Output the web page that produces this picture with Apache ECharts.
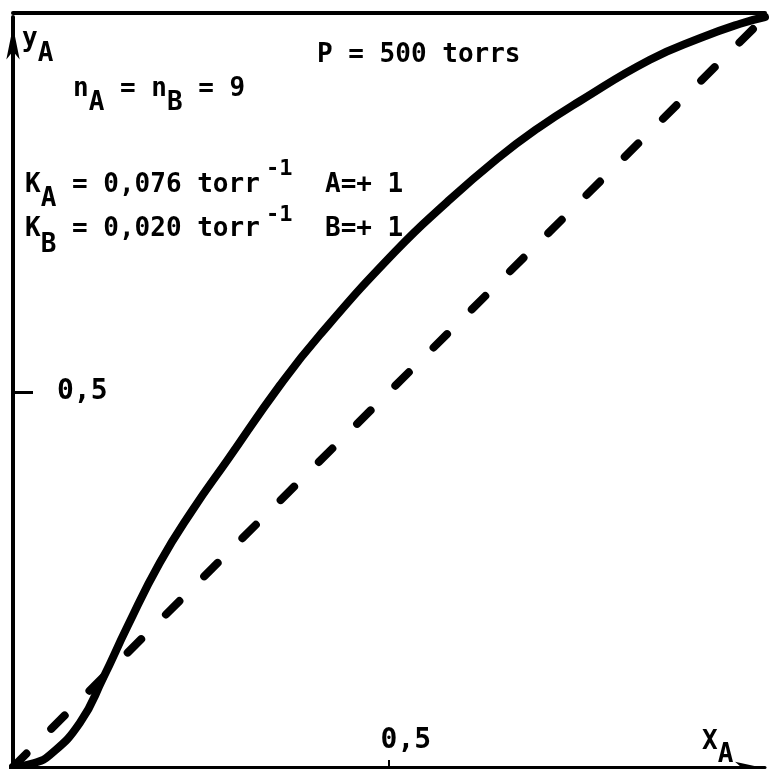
<!DOCTYPE html>
<html><head><meta charset="utf-8">
<script src="https://cdn.jsdelivr.net/npm/echarts@6/dist/echarts.min.js"></script>
<style>html,body{margin:0;padding:0;background:#fff}#c{width:770px;height:769px}</style>
</head><body><div id="c"></div>
<script>
// Solid curve y_A vs x_A
const solidX = [0, 0.027, 0.049, 0.089, 0.120, 0.152, 0.195, 0.239, 0.285, 0.355, 0.408, 0.508, 0.577, 0.644, 0.697, 0.754, 0.847, 0.914, 0.967, 1];
const solidY = [0, 0.005, 0.016, 0.059, 0.119, 0.187, 0.272, 0.343, 0.409, 0.509, 0.576, 0.687, 0.753, 0.811, 0.851, 0.888, 0.943, 0.972, 0.991, 1];
// Dashed diagonal y = x
const diagX = [0, 1];
const diagY = [0, 1];
// Ticks
const tickValues = [0.5];
const tickLabels = ['0,5'];
// Annotation texts
const axisNameY = ['y', 'A'];
const axisNameX = ['X', 'A'];
const nLine = ['n  = n  = 9', ' A    B'];
const pLine = 'P = 500 torrs';
const kaLine = ['K  = 0,076 torr', ' A', '-1', 'A=+ 1'];
const kbLine = ['K  = 0,020 torr', ' B', '-1', 'B=+ 1'];

const FF = '"DejaVu Sans Mono", monospace';
const chart = echarts.init(document.getElementById('c'), null, {renderer: 'canvas'});

function lbl(v) { const i = tickValues.indexOf(v); return i >= 0 ? tickLabels[i] : ''; }

function txt(s, x, baseline, fs) {
  fs = fs || 26;
  return {type: 'text', x: x, y: baseline - 0.297 * fs, silent: true,
    style: {text: s, font: 'bold ' + fs + 'px ' + FF, fill: '#000', align: 'left', verticalAlign: 'middle'}};
}

const graphics = [
  txt(axisNameY[0], 22, 47), txt(' ' + axisNameY[1], 22, 62),
  txt(nLine[0], 73, 97), txt(nLine[1], 73, 111),
  txt(pLine, 317, 63),
  txt(kaLine[0], 25, 193), txt(kaLine[1], 25, 207), txt(kaLine[2], 266, 176, 22), txt(kaLine[3], 325, 193),
  txt(kbLine[0], 25, 237), txt(kbLine[1], 25, 253), txt(kbLine[2], 266, 222, 22), txt(kbLine[3], 325, 237),
  txt(axisNameX[0], 702, 750), txt(' ' + axisNameX[1], 702, 763)
];

chart.setOption({
  animation: false,
  backgroundColor: '#fff',
  grid: {left: 13, right: 5, top: 17, bottom: 2, containLabel: false, outerBoundsMode: 'none'},
  xAxis: [{
    type: 'value', min: 0, max: 1, position: 'bottom',
    axisLine: {show: true, onZero: false, symbol: ['none', 'arrow'], symbolSize: [8, 24], symbolOffset: [0, -6],
      lineStyle: {color: '#000', width: 3}},
    axisTick: {show: true, inside: true, length: 7, customValues: tickValues, lineStyle: {color: '#000', width: 2}},
    axisLabel: {show: true, inside: true, customValues: tickValues, margin: 12,
      formatter: v => '\u00a0\u00a0' + lbl(v), fontSize: 28, fontWeight: 'bold', fontFamily: FF, color: '#000'},
    splitLine: {show: false}
  }, {
    type: 'value', min: 0, max: 1, position: 'top', offset: 4,
    axisLine: {show: true, onZero: false, lineStyle: {color: '#000', width: 4}},
    axisTick: {show: false}, axisLabel: {show: false}, splitLine: {show: false}
  }],
  yAxis: {
    type: 'value', min: 0, max: 1,
    axisLine: {show: true, onZero: false, symbol: ['none', 'arrow'], symbolSize: [10, 33], symbolOffset: [0, -9.5],
      lineStyle: {color: '#000', width: 4}},
    axisTick: {show: true, inside: true, length: 20, customValues: tickValues, lineStyle: {color: '#000', width: 3}},
    axisLabel: {show: true, inside: true, customValues: tickValues, margin: 44, formatter: v => lbl(v),
      fontSize: 28, fontWeight: 'bold', fontFamily: FF, color: '#000', verticalAlign: 'middle'},
    splitLine: {show: false}
  },
  series: [{
    type: 'line', xAxisIndex: 0, data: diagX.map((x, i) => [x, diagY[i]]), showSymbol: false, clip: false,
    lineStyle: {color: '#000', width: 8, type: [19, 35], cap: 'round', dashOffset: 0}, z: 2
  }, {
    type: 'line', xAxisIndex: 0, data: solidX.map((x, i) => [x, solidY[i]]), showSymbol: false, clip: false,
    smooth: 0.5, lineStyle: {color: '#000', width: 8, cap: 'round', join: 'round'}, z: 3
  }],
  graphic: graphics
});
</script></body></html>
